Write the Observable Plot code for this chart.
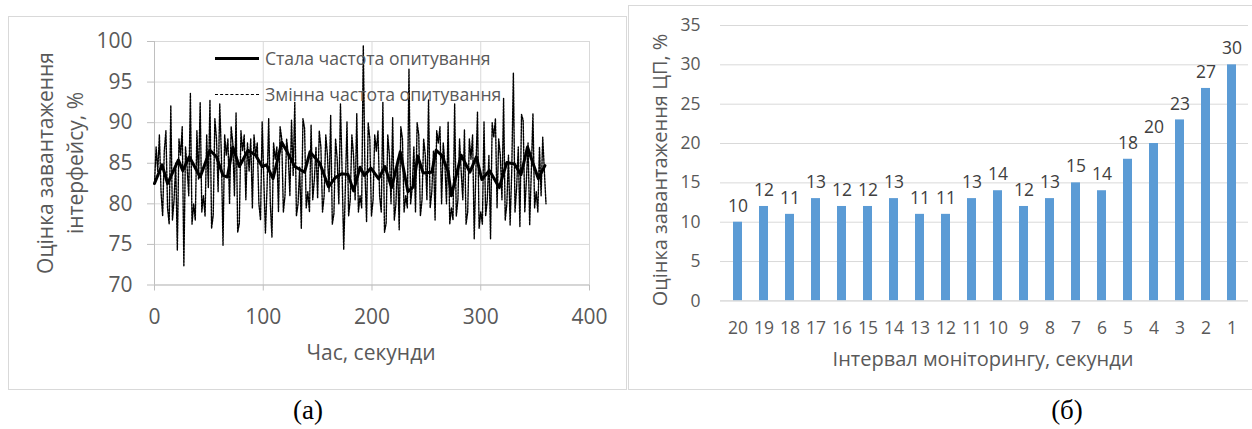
<!DOCTYPE html>
<html>
<head>
<meta charset="utf-8">
<script src="https://cdn.jsdelivr.net/npm/d3@7"></script>
<script src="https://cdn.jsdelivr.net/npm/@observablehq/plot@0.6"></script>
<style>
  html, body { margin: 0; padding: 0; background: #fff; }
  #page { position: relative; width: 1252px; height: 429px; overflow: hidden; background: #fff; font-family: "Open Sans", sans-serif; color: #595959; }
  .abs { position: absolute; white-space: nowrap; }
  .c { transform: translate(-50%, -50%); }
  .rot { transform: translate(-50%, -50%) rotate(-90deg); }
  .panel { position: absolute; border: 1px solid #d9d9d9; box-sizing: border-box; }
  .cap { font-family: "Liberation Serif", "Times New Roman", serif; font-size: 27px; color: #000; }
  #leftChart svg, #rightChart svg { display: block; max-width: none; overflow: visible; }
</style>
</head>
<body>
<div id="page">
  <div class="panel" style="left:8px; top:16px; width:619px; height:374px;"></div>
  <div class="panel" style="left:628px; top:5px; width:640px; height:385px;"></div>
  <div id="leftChart" style="position:absolute; left:0; top:0; width:627px; height:390px;"></div>
  <div id="rightChart" style="position:absolute; left:629px; top:0; width:623px; height:390px;"></div>

  <div class="abs rot" style="left:45px; top:163px; font-size:21px;">Оцінка завантаження</div>
  <div class="abs rot" style="left:75px; top:163px; font-size:21px;">інтерфейсу, %</div>
  <div class="abs c" style="left:371px; top:352px; font-size:21px;">Час, секунди</div>
  <div class="abs" style="left:215px; top:57px; width:44px; border-top:3px solid #000;"></div>
  <div class="abs" style="left:215px; top:94px; width:44px; border-top:1.5px dashed #000;"></div>
  <div class="abs" style="left:265px; top:58px; transform: translateY(-52%); font-size:17.6px;">Стала частота опитування</div>
  <div class="abs" style="left:265px; top:94px; transform: translateY(-52%); font-size:17.6px;">Змінна частота опитування</div>

  <div class="abs rot" style="left:659px; top:170px; font-size:20px;">Оцінка завантаження ЦП, %</div>
  <div class="abs c" style="left:983px; top:358px; font-size:20px;">Інтервал моніторингу, секунди</div>

  <div class="abs c cap" style="left:308px; top:410px;">(а)</div>
  <div class="abs c cap" style="left:1067px; top:410px;">(б)</div>
</div>
<script>
// ---- Left chart data (time in seconds, interface load %) ----
const constTime = [0,7,12,22,26,32,42,51,57,63,67,72,78,86,93,99,103,109,117,122,129,138,143,152,160,166,172,178,183,189,193,199,206,212,218,226,233,238,242,247,255,259,264,270,273,282,290,296,301,308,317,324,331,337,343,348,353,359];
const constLoad = [82.5,84.8,82.5,85.4,84.1,85.8,83.3,86.6,85.8,83.5,83.3,87.0,84.6,86.6,86.0,84.6,84.8,83.1,87.6,86.4,84.6,83.9,86.4,85.0,82.1,83.2,83.7,83.6,81.6,84.5,83.5,84.4,83.1,84.6,82.0,86.4,81.5,82.1,85.9,83.8,83.9,86.6,86.0,84.0,81.0,86.0,83.9,85.8,83.0,84.1,82.0,85.1,84.9,83.6,87.0,85.0,83.1,84.7];

// variable-rate samples, part 1 (whole 3-second marks)
const varTime = [0,3,6,9,12,15,18,21,24,27,30,33,36,39,42,45,48,51,54,57,60,63,66,69,72,75,78,81,84,87,90,93,96,99,102,105,108,111,114,117,120,123,126,129,132,135,138,141,144,147,150,153,156,159,162,165,168,171,174,177,180,183,186,189,192,195,198,201,204,207,210,213,216,219,222,225,228,231,234,237,240,243,246,249,252,255,258,261,264,267,270,273,276,279,282,285,288,291,294,297,300,303,306,309,312,315,318,321,324,327,330,333,336,339,342,345,348,351,354,357,360];
const varLoad = [82.5,84.0,81.5,86.5,79.5,92.1,80.5,74.3,86.0,72.3,84.5,93.6,80.0,89.0,92.5,81.0,88.5,92.8,78.6,88.0,92.3,74.9,86.0,80.0,87.5,91.2,77.6,86.5,80.5,84.0,79.5,86.0,80.0,90.1,76.4,90.5,75.9,85.5,79.0,88.0,81.0,86.0,90.3,92.5,80.0,77.0,89.3,81.5,89.7,83.0,80.7,87.0,81.0,86.0,90.9,78.8,85.5,92.3,74.4,90.1,80.5,86.0,91.1,81.0,99.5,77.8,88.0,80.5,86.5,81.0,92.5,77.6,86.0,90.6,80.0,76.8,88.0,81.0,96.6,82.0,79.0,88.5,80.5,86.0,92.8,81.5,78.0,87.5,80.0,85.0,90.1,79.5,92.3,80.5,84.0,89.1,79.0,85.5,75.7,91.3,79.0,90.1,80.5,75.7,88.2,79.5,86.0,93.0,80.0,77.4,96.1,82.0,77.2,90.3,83.0,77.4,91.1,81.5,87.0,88.2,80.0];
// variable-rate samples, part 2 (in-between marks)
const varTimeMid = [1.5,4.5,7.5,10.5,13.5,16.5,19.5,22.5,25.5,28.5,31.5,34.5,37.5,40.5,43.5,46.5,49.5,52.5,55.5,58.5,61.5,64.5,67.5,70.5,73.5,76.5,79.5,82.5,85.5,88.5,91.5,94.5,97.5,100.5,103.5,106.5,109.5,112.5,115.5,118.5,121.5,124.5,127.5,130.5,133.5,136.5,139.5,142.5,145.5,148.5,151.5,154.5,157.5,160.5,163.5,166.5,169.5,172.5,175.5,178.5,181.5,184.5,187.5,190.5,193.5,196.5,199.5,202.5,205.5,208.5,211.5,214.5,217.5,220.5,223.5,226.5,229.5,232.5,235.5,238.5,241.5,244.5,247.5,250.5,253.5,256.5,259.5,262.5,265.5,268.5,271.5,274.5,277.5,280.5,283.5,286.5,289.5,292.5,295.5,298.5,301.5,304.5,307.5,310.5,313.5,316.5,319.5,322.5,325.5,328.5,331.5,334.5,337.5,340.5,343.5,346.5,349.5,352.5,355.5,358.5];
const varLoadMid = [87.0,88.5,78.5,89.0,77.5,78.0,85.0,88.0,89.5,87.0,81.0,77.5,78.0,83.0,79.0,78.5,82.0,77.0,90.5,81.5,86.0,88.5,88.0,89.5,81.0,76.5,89.0,88.5,87.5,88.0,88.5,87.5,78.0,83.0,82.0,80.0,87.5,87.0,89.5,79.0,88.0,81.0,83.5,78.5,84.5,90.5,79.5,79.0,80.5,87.0,89.0,79.0,88.5,81.5,77.5,88.0,80.0,84.0,82.0,78.5,88.5,80.5,79.0,79.5,84.0,90.0,78.5,88.5,89.0,79.0,76.5,88.5,80.0,78.0,85.5,89.5,79.0,79.5,80.0,87.0,90.0,78.5,88.0,80.5,79.5,86.5,89.0,89.5,87.5,80.0,77.5,78.0,78.5,88.0,80.5,77.5,88.0,88.5,84.0,77.0,77.5,78.5,86.0,90.0,90.5,88.0,80.5,78.0,86.0,84.0,79.0,87.0,91.0,79.0,87.5,84.0,79.5,79.0,81.0,84.0];

const leftXTicks = [0,100,200,300,400];
const leftYTicks = [70,75,80,85,90,95,100];

// ---- Right chart data ----
const intervals = ["20","19","18","17","16","15","14","13","12","11","10","9","8","7","6","5","4","3","2","1"];
const cpuLoad = [10,12,11,13,12,12,13,11,11,13,14,12,13,15,14,18,20,23,27,30];
const rightYTicks = [0,5,10,15,20,25,30,35];

const constData = constTime.map((t, i) => ({t, v: constLoad[i]}));
const varData = varTime.map((t, i) => ({t, v: varLoad[i]}))
  .concat(varTimeMid.map((t, i) => ({t, v: varLoadMid[i]})))
  .sort((a, b) => a.t - b.t);
const barData = intervals.map((k, i) => ({k, v: cpuLoad[i]}));

const gridColor = "#d9d9d9";
const txtColor = "#595959";

const leftSvg = Plot.plot({
  width: 627, height: 390,
  marginLeft: 154, marginRight: 38, marginTop: 41, marginBottom: 105.5,
  style: {fontFamily: "Open Sans", background: "transparent", color: txtColor, overflow: "visible"},
  x: {domain: [0, 400]},
  y: {domain: [70, 100]},
  marks: [
    Plot.gridX(leftXTicks, {stroke: gridColor, strokeOpacity: 1}),
    Plot.gridY(leftYTicks, {stroke: gridColor, strokeOpacity: 1}),
    Plot.axisY(leftYTicks, {tickSize: 7, tickPadding: 15, stroke: "#bfbfbf", fill: txtColor, fontSize: 21, label: null}),
    Plot.axisX(leftXTicks, {tickSize: 6, tickPadding: 18, stroke: "#bfbfbf", fill: txtColor, fontSize: 21, label: null}),
    Plot.ruleX([0], {stroke: "#bfbfbf"}),
    Plot.ruleY([70], {stroke: "#bfbfbf"}),
    Plot.line(varData, {x: "t", y: "v", stroke: "#000", strokeWidth: 1.4, strokeDasharray: "2,1.2"}),
    Plot.line(constData, {x: "t", y: "v", stroke: "#000", strokeWidth: 3})
  ]
});
document.getElementById("leftChart").appendChild(leftSvg);

const rightSvg = Plot.plot({
  width: 623, height: 390,
  marginLeft: 91, marginRight: 4, marginTop: 25, marginBottom: 89.6,
  style: {fontFamily: "Open Sans", background: "transparent", color: txtColor, overflow: "visible"},
  x: {domain: intervals, paddingInner: 0.66, paddingOuter: 0.33},
  y: {domain: [0, 35]},
  marks: [
    Plot.gridY(rightYTicks, {stroke: gridColor, strokeOpacity: 1}),
    Plot.axisY(rightYTicks, {tickSize: 0, tickPadding: 20, fill: txtColor, fontSize: 17.5, label: null}),
    Plot.axisX({tickSize: 0, tickPadding: 21, fill: txtColor, fontSize: 17.5, label: null}),
    Plot.barY(barData, {x: "k", y: "v", fill: "#5B9BD5"}),
    Plot.ruleY([0], {stroke: gridColor}),
    Plot.text(barData, {x: "k", y: "v", text: d => String(d.v), dy: -16, fontSize: 17.5, fill: "#404040"})
  ]
});
document.getElementById("rightChart").appendChild(rightSvg);
</script>
</body>
</html>
